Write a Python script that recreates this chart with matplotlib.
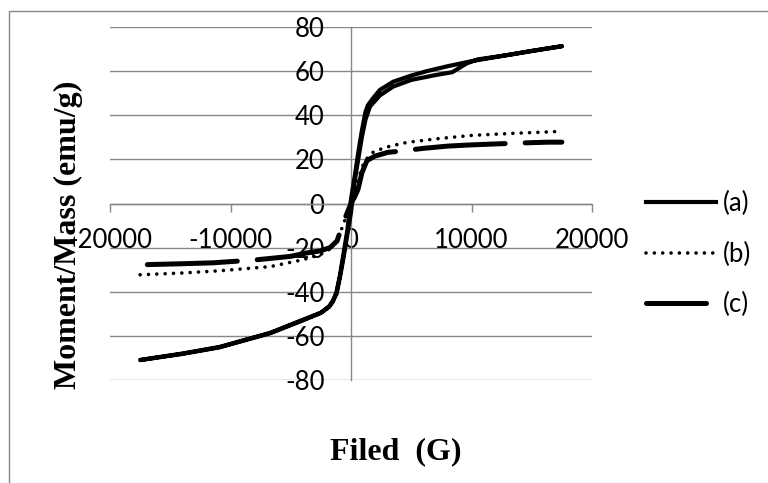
import numpy as np
import matplotlib
matplotlib.use('Agg')
import matplotlib.pyplot as plt
from matplotlib.lines import Line2D
from matplotlib.patches import Rectangle

plt.rcParams['axes.unicode_minus'] = False

# %% DATA
# (a) hysteresis loop: descending branch then ascending branch
field_a_dn = [17500, 15000, 13000, 10000, 8000, 6300, 5000, 3500, 2400, 1800, 1400, 1200,
              900, 600, 300, 0, -300, -600, -900, -1200, -1500, -1800, -2500, -4000,
              -6700, -10900, -14000, -17500]
mom_a_dn = [71.3, 69.2, 67.3, 64.5, 62.2, 60.0, 58.0, 55.2, 51.5, 47.5, 44.5, 41.5,
            33, 23, 12, 2, -12, -22, -32, -40, -44.5, -46.5, -49.5, -52.7,
            -58.6, -65, -68, -70.9]

field_a_up = [-17500, -14000, -10900, -6700, -4000, -2500, -1800, -1200, -900, -600,
              -300, 0, 300, 600, 900, 1200, 1580, 2400, 3500, 5000, 7000, 8400, 9000,
              9600, 10500, 13000, 17500]
mom_a_up = [-71, -68.2, -65.2, -58.8, -53, -49.6, -46.8, -41, -33, -24,
            -14, -4, 10, 20, 30, 38, 44, 49, 53, 56, 58.2, 59.5, 61.5,
            63.5, 65.3, 67.3, 71.3]

field_b = [-17500, -14000, -10900, -6700, -4000, -2570, -1700, -1100, -600, -300, 0,
           300, 600, 1000, 1400, 1830, 2400, 3240, 4650, 7400, 10100, 13500, 17500]
mom_b = [-32.3, -31.5, -30.5, -28.6, -25.5, -23.2, -20.5, -16, -9, -4, 0,
         5, 11, 17.5, 21, 23.2, 24.5, 26, 27.7, 29.5, 30.9, 31.8, 32.7]

field_c = [-16900, -14000, -11500, -8000, -5060, -3650, -2570, -1740, -1160, -660, -300,
           0, 300, 580, 910, 1330, 2000, 3070, 4070, 6000, 8000, 9700, 12000, 14500,
           16400, 17500]
mom_c = [-27.7, -27.3, -26.9, -25.6, -24, -22.4, -21.5, -20, -17, -9, -4,
         0, 3, 6.4, 14, 19.5, 21.5, 23.2, 23.7, 25, 26, 26.5, 27, 27.5,
         27.8, 27.8]

labels = ['(a)', '(b)', '(c)']
x_ticks = [-20000, -10000, 0, 10000, 20000]
y_ticks = [-80, -60, -40, -20, 0, 20, 40, 60, 80]

W, H = 768, 483
grey = '#878787'
tick_font = 'Lato'
fs = 18.5

fig = plt.figure(figsize=(W / 100, H / 100), dpi=100)
ax = fig.add_axes([110 / W, 1 - 380 / H, (592 - 110) / W, (380 - 27) / H])

# gridlines
for yv in y_ticks:
    ax.plot([x_ticks[0], x_ticks[-1]], [yv, yv], color=grey, lw=1.0, zorder=1)

# curves
ax.plot(field_a_dn + field_a_up, mom_a_dn + mom_a_up, color='black', lw=3.0,
        solid_capstyle='round', solid_joinstyle='round', zorder=3)
ax.plot(field_b, mom_b, color='black', lw=2.6, linestyle=(0, (0.01, 2.3)),
        dash_capstyle='round', zorder=3)
ax.plot(field_c, mom_c, color='black', lw=3.6, linestyle=(0, (18, 4)),
        dash_capstyle='round', zorder=3)

ax.set_xlim(x_ticks[0], x_ticks[-1])
ax.set_ylim(y_ticks[0], y_ticks[-1])
ax.set_xticks(x_ticks)
ax.set_yticks(y_ticks)
ax.set_xticklabels([str(v) for v in x_ticks])
ax.set_yticklabels([str(v) for v in y_ticks])

for s in ['top', 'right']:
    ax.spines[s].set_visible(False)
ax.spines['left'].set_position(('data', 0))
ax.spines['bottom'].set_position(('data', 0))
for s in ['left', 'bottom']:
    ax.spines[s].set_color(grey)
    ax.spines[s].set_linewidth(1.0)
    ax.spines[s].set_zorder(2)
ax.tick_params(axis='x', direction='out', length=6, width=1.0, color=grey, pad=11.5,
               labelsize=fs, labelcolor='black')
ax.tick_params(axis='y', length=0, pad=19, labelsize=fs, labelcolor='black')
for t in ax.get_xticklabels() + ax.get_yticklabels():
    t.set_fontfamily(tick_font)
ax.patch.set_visible(False)

# axis titles
fig.text(68 / W, 1 - 235 / H, 'Moment/Mass (emu/g)', rotation=90, ha='center', va='center',
         family='Liberation Serif', weight='bold', fontsize=23, zorder=5)
fig.text(396 / W, 1 - 452 / H, 'Filed  (G)', ha='center', va='center',
         family='Liberation Serif', weight='bold', fontsize=23)

# legend
handles = [Line2D([], [], color='black', lw=3.0),
           Line2D([], [], color='black', lw=2.6, linestyle=(0, (0.01, 2.3)), dash_capstyle='round'),
           Line2D([], [], color='black', lw=3.6, linestyle=(0, (12, 5, 0.01, 5)), dash_capstyle='round')]
fig.legend(handles, labels, loc='upper left', bbox_to_anchor=(646 / W, 1 - 191 / H),
           frameon=False, borderpad=0, borderaxespad=0, handlelength=2.72,
           handletextpad=0.27, labelspacing=0.99, prop={'family': tick_font, 'size': fs})

# outer chart border (only left and top show in the crop)
fig.add_artist(Rectangle((9 / W, -0.1), 1.2, 1.1 - 11 / H, transform=fig.transFigure,
                         fill=False, edgecolor=grey, lw=1.0))

fig.savefig('out.png', dpi=100)
